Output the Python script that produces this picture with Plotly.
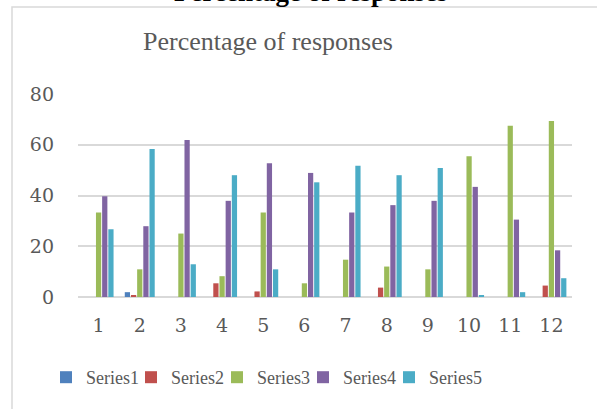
import plotly.graph_objects as go

categories = ["1", "2", "3", "4", "5", "6", "7", "8", "9", "10", "11", "12"]
series_names = ["Series1", "Series2", "Series3", "Series4", "Series5"]
series1 = [0, 1.9, 0, 0, 0, 0, 0, 0, 0, 0, 0, 0]
series2 = [0, 0.8, 0, 5.4, 2.2, 0, 0, 3.7, 0, 0, 0, 4.5]
series3 = [33.3, 10.9, 25, 8.2, 33.3, 5.4, 14.7, 12, 10.9, 55.5, 67.5, 69.4]
series4 = [39.7, 27.9, 61.9, 37.9, 52.7, 48.9, 33.3, 36.2, 37.9, 43.4, 30.5, 18.4]
series5 = [26.7, 58.3, 12.9, 48, 10.9, 45.2, 51.7, 48, 50.8, 0.8, 1.9, 7.4]
colors = ["#4F81BD", "#C0504D", "#9BBB59", "#8064A2", "#4BACC6"]
y_ticks = [0, 20, 40, 60, 80]

W, H = 597, 409
L, R, T, B = 78, 25, 94, 112
pw, ph = W - L - R, H - T - B


def px_x(p):
    return (p - L) / pw


def px_y(p):
    return 1 - (p - T) / ph


gray = "#595959"
legend_lefts = [46, 131, 217, 303, 389]

fig = go.Figure()
legend_layouts = {}
for i, (name, vals, col) in enumerate(zip(series_names, [series1, series2, series3, series4, series5], colors)):
    lg = "legend" if i == 0 else f"legend{i + 1}"
    fig.add_trace(go.Bar(x=categories, y=vals, name=name, legend=lg,
                         marker=dict(color=col, line=dict(width=0))))
    legend_layouts[lg] = dict(orientation="h", x=px_x(legend_lefts[i]), xanchor="left",
                              y=px_y(359), yanchor="top",
                              font=dict(family="Liberation Serif", size=18, color=gray),
                              bgcolor="rgba(0,0,0,0)", borderwidth=0)

fig.update_layout(
    width=W, height=H,
    margin=dict(l=L, r=R, t=T, b=B, autoexpand=False),
    paper_bgcolor="white", plot_bgcolor="white",
    barmode="group", bargap=0.25, bargroupgap=0.15,
    showlegend=True,
    xaxis=dict(type="category", showgrid=False, showline=False, ticks="",
               tickfont=dict(family="DejaVu Serif", size=19, color=gray),
               ticklabelstandoff=15),
    yaxis=dict(range=[0, 80], tickvals=y_ticks, showgrid=True, gridcolor="#d9d9d9", gridwidth=1.5,
               zeroline=True, zerolinecolor="#d9d9d9", zerolinewidth=1.5, showline=False, ticks="",
               tickfont=dict(family="DejaVu Serif", size=19, color=gray),
               ticklabelstandoff=23),
    shapes=[dict(type="rect", xref="paper", yref="paper",
                 x0=px_x(12), x1=px_x(620), y0=px_y(430), y1=px_y(7),
                 line=dict(color="#d9d9d9", width=1.5), fillcolor="rgba(0,0,0,0)", layer="below")],
    annotations=[
        dict(text="Percentage of responses", xref="paper", yref="paper",
             x=px_x(268), y=px_y(42), xanchor="center", yanchor="middle", showarrow=False,
             font=dict(family="Liberation Serif", size=26, color=gray)),
        dict(text="<b>Percentage of responses</b>", xref="paper", yref="paper",
             x=px_x(310), y=px_y(9), xanchor="center", yanchor="bottom", showarrow=False,
             font=dict(family="Liberation Serif", size=27, color="black")),
    ],
)
fig.update_layout(**legend_layouts)

fig.write_html("out.html", config={"displayModeBar": False},
               post_script="document.body.style.margin='0';document.body.style.overflow='hidden';")
